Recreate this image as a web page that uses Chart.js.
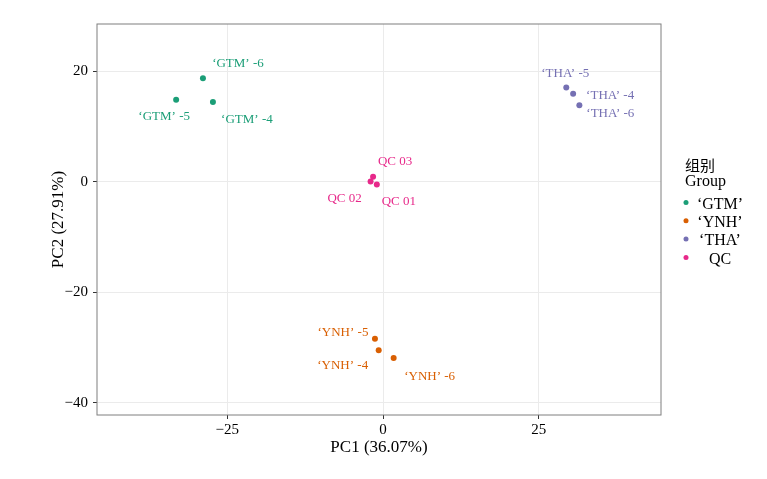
<!DOCTYPE html>
<html>
<head>
<meta charset="utf-8">
<script src="https://cdn.jsdelivr.net/npm/chart.js@4.4.1/dist/chart.umd.min.js"></script>
<style>
    body { margin: 0; background: #fff; }
    #wrap { width: 767px; height: 479px; position: relative; }
</style>
</head>
<body>
<div id="wrap"><canvas id="pcaChart"></canvas></div>
<script>
// PCA scores
const groupNames = ['‘GTM’', '‘YNH’', '‘THA’', 'QC'];
const groupColors = ['#1b9e77', '#d95f02', '#7570b3', '#e7298a'];

const gtmSamples = ['‘GTM’ -6', '‘GTM’ -5', '‘GTM’ -4'];
const gtmPC1 = [-28.9, -33.2, -27.3];
const gtmPC2 = [18.7, 14.8, 14.4];

const ynhSamples = ['‘YNH’ -5', '‘YNH’ -4', '‘YNH’ -6'];
const ynhPC1 = [-1.3, -0.7, 1.7];
const ynhPC2 = [-28.4, -30.5, -31.9];

const thaSamples = ['‘THA’ -5', '‘THA’ -4', '‘THA’ -6'];
const thaPC1 = [29.4, 30.5, 31.5];
const thaPC2 = [17.0, 15.9, 13.8];

const qcSamples = ['QC 03', 'QC 02', 'QC 01'];
const qcPC1 = [-1.6, -2.0, -1.0];
const qcPC2 = [0.9, 0.0, -0.5];

const xTicks = [-25, 0, 25];
const yTicks = [-40, -20, 0, 20];

// label nudges in pixels (repel-style placement)
const labelOffsets = [
    [[35, -15], [-12, 17], [34, 18]],
    [[-32, -6], [-36, 15], [36, 19]],
    [[-1, -14], [37, 2], [31, 8]],
    [[22, -15], [-26, 17], [22, 17]]
];

const serif = '"Liberation Serif", "DejaVu Serif", serif';

function toPoints(xs, ys, names) {
    return xs.map((x, i) => ({ x: x, y: ys[i], name: names[i] }));
}

const groupData = [
    toPoints(gtmPC1, gtmPC2, gtmSamples),
    toPoints(ynhPC1, ynhPC2, ynhSamples),
    toPoints(thaPC1, thaPC2, thaSamples),
    toPoints(qcPC1, qcPC2, qcSamples)
];

const fmt = v => (v < 0 ? '\u2212' + Math.abs(v) : String(v));

// frame, point labels and legend
const decorPlugin = {
    id: 'decor',
    afterDatasetsDraw(chart) {
        const c = chart.ctx;
        const a = chart.chartArea;
        c.save();
        c.strokeStyle = '#7f7f7f';
        c.lineWidth = 1;
        c.strokeRect(a.left, a.top, a.right - a.left, a.bottom - a.top);

        c.font = '13px ' + serif;
        c.textAlign = 'center';
        c.textBaseline = 'middle';
        chart.data.datasets.forEach((ds, di) => {
            const meta = chart.getDatasetMeta(di);
            c.fillStyle = ds.backgroundColor;
            meta.data.forEach((pt, i) => {
                const off = labelOffsets[di][i];
                c.fillText(ds.data[i].name, pt.x + off[0], pt.y + off[1]);
            });
        });

        // legend
        const lx = 686;
        c.fillStyle = '#000';
        c.textAlign = 'left';
        c.font = '15px "Noto Sans CJK SC", sans-serif';
        c.fillText('组别', lx - 1, 165);
        c.font = '16px ' + serif;
        c.fillText('Group', lx - 1, 182);
        groupNames.forEach((g, i) => {
            const y = 202.5 + i * 18.3;
            c.fillStyle = groupColors[i];
            c.beginPath();
            c.arc(lx, y, 2.5, 0, Math.PI * 2);
            c.fill();
            c.fillStyle = '#000';
            c.textAlign = 'center';
            c.fillText(g, 720, y + 2);
        });
        c.restore();
    }
};

new Chart(document.getElementById('pcaChart'), {
    type: 'scatter',
    data: {
        datasets: groupData.map((pts, i) => ({
            label: groupNames[i],
            data: pts,
            backgroundColor: groupColors[i],
            borderWidth: 0,
            pointRadius: 3,
            pointHoverRadius: 3
        }))
    },
    options: {
        responsive: true,
        maintainAspectRatio: false,
        animation: false,
        layout: { padding: { top: 24, right: 106, left: 0, bottom: 0 } },
        plugins: { legend: { display: false }, tooltip: { enabled: false } },
        scales: {
            x: {
                type: 'linear',
                min: -45.9,
                max: 44.6,
                afterBuildTicks: s => { s.ticks = xTicks.map(v => ({ value: v })); },
                afterFit: s => { s.height = 64; },
                grid: { color: '#ebebeb', tickColor: '#333', tickLength: 4 },
                border: { display: false },
                ticks: { color: '#000', padding: 2, font: { family: serif, size: 15 }, callback: v => fmt(v) },
                title: { display: true, text: 'PC1 (36.07%)', color: '#000', font: { family: serif, size: 17 }, padding: { top: 0, bottom: 21 } }
            },
            y: {
                type: 'linear',
                min: -42.2,
                max: 28.5,
                afterBuildTicks: s => { s.ticks = yTicks.map(v => ({ value: v })); },
                afterFit: s => { s.width = 97; },
                grid: { color: '#ebebeb', tickColor: '#333', tickLength: 4 },
                border: { display: false },
                ticks: { color: '#000', padding: 5, font: { family: serif, size: 15 }, callback: v => fmt(v) },
                title: { display: true, text: 'PC2 (27.91%)', color: '#000', font: { family: serif, size: 17 }, padding: { top: 48, bottom: 0 } }
            }
        }
    },
    plugins: [decorPlugin]
});
</script>
</body>
</html>
